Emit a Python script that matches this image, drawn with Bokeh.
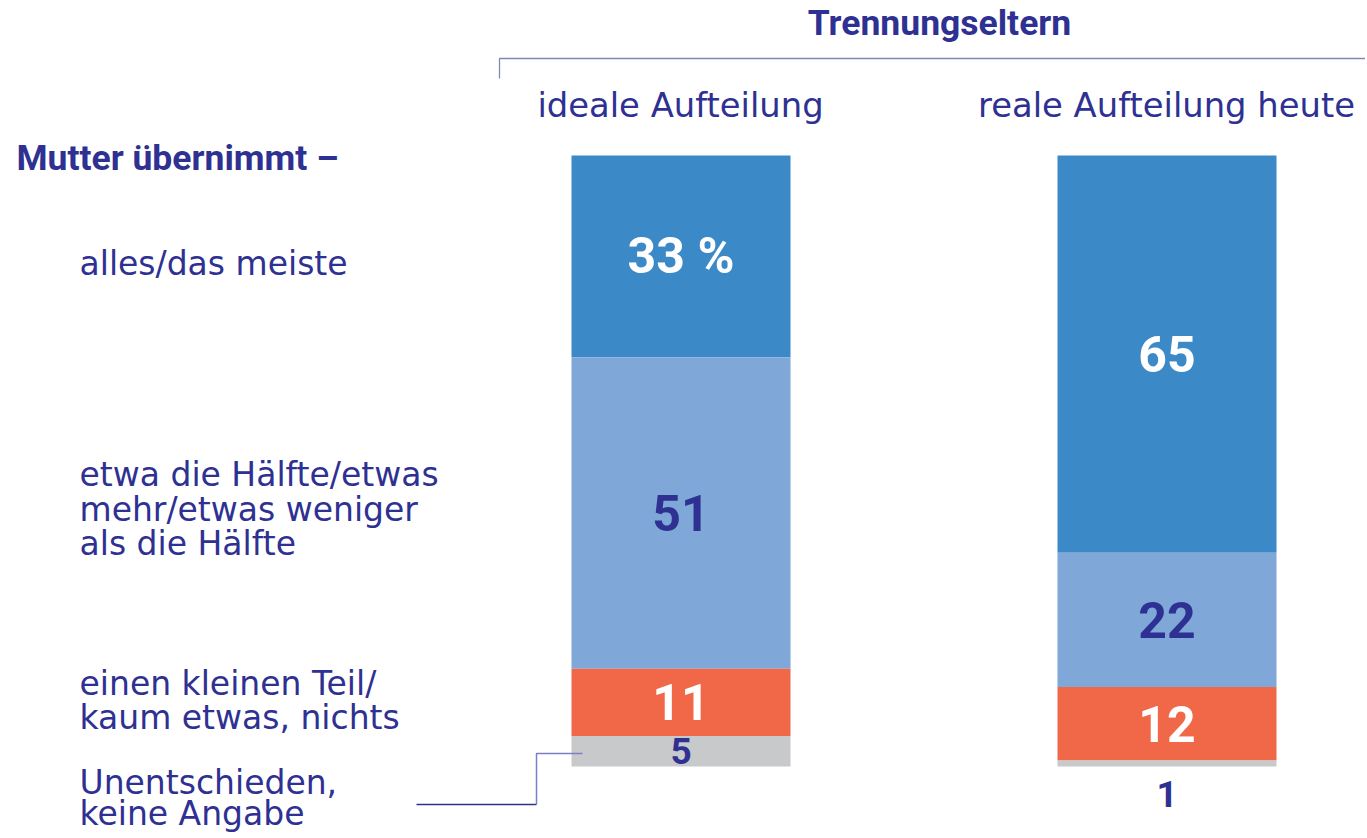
from bokeh.plotting import figure
from bokeh.models import Range1d
from bokeh.core.properties import value
from bokeh.embed import file_html
from bokeh.resources import INLINE

# ---- data ----
groups = ["ideale Aufteilung", "reale Aufteilung heute"]
group_title = "Trennungseltern"
row_title = "Mutter übernimmt –"
categories = [
    ["alles/das meiste"],
    ["etwa die Hälfte/etwas", "mehr/etwas weniger", "als die Hälfte"],
    ["einen kleinen Teil/", "kaum etwas, nichts"],
    ["Unentschieden,", "keine Angabe"],
]
ideal = [33, 51, 11, 5]
real = [65, 22, 12, 1]
series = [ideal, real]

# ---- style ----
seg_colors = ["#3b89c7", "#7fa8d8", "#f06848", "#c8c9cb"]
lab_colors = ["white", "#2e3192", "white", "#2e3192"]
NAVY = "#2e3192"
REG = value("DejaVu Sans")
BOLD = value("Roboto")

W, H = 1365, 836
TOP, PX = 155, 6.11          # screen-y of 0 %, pixels per percent


def yp(screen_y):
    return (screen_y - TOP) / PX


p = figure(width=W, height=H, x_range=Range1d(0, W),
           y_range=Range1d(yp(H), yp(0)),
           output_backend="svg", toolbar_location=None, min_border=0)
p.axis.visible = False
p.grid.visible = False
p.outline_line_color = None
p.background_fill_color = "white"

xc = [680.5, 1166.5]
bw = 219

for gi, vals in enumerate(series):
    bottom = 0
    for si, v in enumerate(vals):
        p.vbar(x=[xc[gi]], width=bw, bottom=[bottom], top=[bottom + v],
               fill_color=seg_colors[si], line_color=None)
        txt = str(v) + (" %" if gi == 0 and si == 0 else "")
        mid = bottom + v / 2
        size = "50px"
        if v < 3:
            mid = yp(793)
            size = "37px"
        elif si == 3:
            size = "37px"
        p.text(x=[xc[gi]], y=[mid], text=[txt], text_align="center",
               text_baseline="middle", text_color=lab_colors[si],
               text_font=BOLD, text_font_style="bold", text_font_size=size)
        bottom += v

# group titles
p.text(x=[680, 1166], y=[yp(105)] * 2, text=groups, text_align="center",
       text_baseline="middle", text_color=NAVY, text_font=REG,
       text_font_size="33.8px")
p.text(x=[939], y=[yp(22)], text=[group_title], text_align="center",
       text_baseline="middle", text_color=NAVY, text_font=BOLD,
       text_font_style="bold", text_font_size="35.5px")
p.text(x=[16], y=[yp(157)], text=[row_title], text_align="left",
       text_baseline="middle", text_color=NAVY, text_font=BOLD,
       text_font_style="bold", text_font_size="35.5px")

# bracket
p.line(x=[499, 499, 1367], y=[yp(78), yp(58), yp(58)],
       line_color="#7f89b9", line_width=1.3)

# category labels
line_ys = [[263], [474, 509, 543], [683, 717], [782, 813]]
for lines, ys in zip(categories, line_ys):
    p.text(x=[79] * len(lines), y=[yp(y) for y in ys], text=lines,
           text_align="left", text_baseline="middle", text_color=NAVY,
           text_font=REG, text_font_size="33px")

# connector for "Unentschieden"
p.line(x=[416, 536], y=[yp(804), yp(804)], line_color=NAVY, line_width=1.5)
p.line(x=[536, 536, 582], y=[yp(804), yp(753), yp(753)],
       line_color="#7b7fc6", line_width=1.5)

open("out.html", "w").write(file_html(p, INLINE))
